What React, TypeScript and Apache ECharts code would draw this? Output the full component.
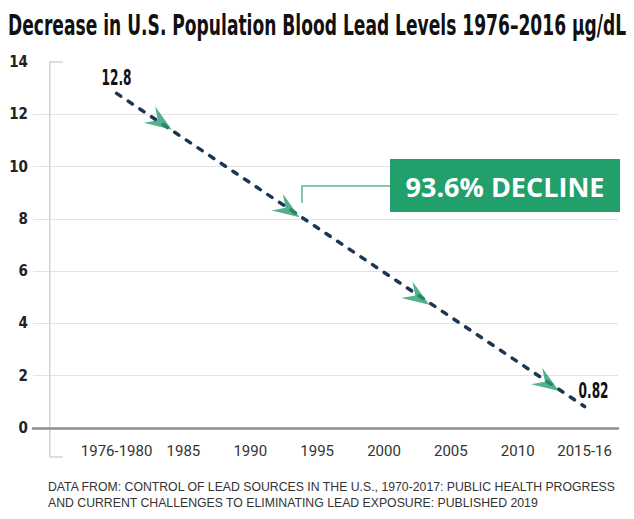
import React, { useEffect, useRef } from "react";
import * as echarts from "echarts";

const categories = ["", "1976-1980", "1985", "1990", "1995", "2000", "2005", "2010", "2015-16"];
const labelPositions = [1, 2, 3, 4, 5, 6, 7, 8];
const leadX = [1, 8];
const leadValues = [12.8, 0.82];
const arrowX = [1.66, 3.57, 5.51, 7.45];
const arrowY = [11.7, 8.35, 5.0, 1.7];
const titleText = "Decrease in U.S. Population Blood Lead Levels 1976\u20132016 \u00b5g/dL";
const declineText = "93.6% DECLINE";
const sourceLines = [
  "DATA FROM: CONTROL OF LEAD SOURCES IN THE U.S., 1970-2017: PUBLIC HEALTH PROGRESS",
  "AND CURRENT CHALLENGES TO ELIMINATING LEAD EXPOSURE: PUBLISHED 2019",
];

const NARROW = "'Liberation Sans Narrow', 'DejaVu Sans Condensed', 'Liberation Sans', sans-serif";
const FOOT = "'Liberation Sans', Arial, sans-serif";

function measure(text: string, font: string): number {
  const c = document.createElement("canvas").getContext("2d");
  if (!c) return 0;
  c.font = font;
  return c.measureText(text).width;
}

export default function App() {
  const ref = useRef<HTMLDivElement>(null);
  useEffect(() => {
    if (!ref.current) return;
    const chart = echarts.init(ref.current, null, { renderer: "svg" });
    const option: any = {
      animation: false,
      backgroundColor: "#ffffff",
      grid: { left: 33, top: 62, width: 585, height: 366, outerBoundsMode: "none" },
      xAxis: {
        type: "value",
        min: -0.25,
        max: 8.5,
        axisLine: { show: true, onZero: true, lineStyle: { color: "#8e8e8e", width: 2.5 } },
        axisTick: { show: false },
        splitLine: { show: false },
        axisLabel: {
          customValues: labelPositions,
          formatter: (v: number) => categories[Math.round(v)] ?? "",
          color: "#333",
          fontFamily: "Roboto, sans-serif",
          fontSize: 15,
          margin: 15,
        },
      },
      yAxis: {
        type: "value",
        min: 0,
        max: 14,
        interval: 2,
        axisLine: { show: false },
        axisTick: { show: false },
        splitLine: { show: true, showMaxLine: false, lineStyle: { color: "#e2e2e2", width: 1 } },
        axisLabel: {
          color: "#222",
          fontFamily: NARROW,
          fontWeight: "bold",
          fontSize: 15,
          margin: 5,
        },
      },
      series: [
        {
          type: "line",
          data: leadX.map((x, i) => [x, leadValues[i]]),
          symbol: "circle",
          symbolSize: 2,
          showSymbol: true,
          itemStyle: { color: "#1c3654" },
          lineStyle: { color: "#1c3654", width: 3.5, type: [5, 9], cap: "round" },
          z: 3,
        },
        {
          type: "scatter",
          data: arrowX.map((x, i) => [x, arrowY[i]]),
          symbol: "path://M10,0 L20,24 L10,15 L0,24 Z",
          symbolSize: [20, 27],
          symbolRotate: -124,
          itemStyle: { color: "#2a9e6b" },
          z: 4,
        },
      ],
    };
    chart.setOption(option);
    const [x0, yTop] = chart.convertToPixel({ gridIndex: 0 }, [0, 14]) as number[];
    const [, yZero] = chart.convertToPixel({ gridIndex: 0 }, [0, 0]) as number[];
    const yBottom = yZero + 29;

    const titleFont = `bold 28px ${NARROW}`;
    const titleW = measure(titleText, titleFont) || 618;
    const titleScale = 618 / titleW;
    const footFont = `12px ${FOOT}`;
    const footW = measure(sourceLines[0], footFont) || 569;
    const footScale = 569 / footW;

    const valueFont = `bold 21px ${NARROW}`;
    const valueW = measure(String(leadValues[0]), valueFont) || 30;
    const valueScale = 30 / valueW;
    const valueLabels = leadValues.map((v, i) => {
      const [px, py] = chart.convertToPixel({ gridIndex: 0 }, [leadX[i], v]) as number[];
      const isLast = i === leadValues.length - 1;
      return {
        type: "text",
        x: isLast ? px - 6 : px,
        y: py - 16,
        scaleX: valueScale,
        z: 10,
        style: {
          text: String(v),
          font: valueFont,
          fill: "#111",
          textAlign: isLast ? "left" : "center",
          textVerticalAlign: "middle",
        },
      };
    });

    chart.setOption({
      graphic: [
        {
          type: "text",
          x: 8,
          y: 26,
          scaleX: titleScale,
          style: {
            text: titleText,
            font: titleFont,
            fill: "#111",
            textVerticalAlign: "middle",
          },
        },
        { type: "line", shape: { x1: x0, y1: yTop, x2: x0, y2: yBottom }, style: { stroke: "#d2d2d2", lineWidth: 1.5 } },
        { type: "line", shape: { x1: x0, y1: yTop, x2: x0 + 13, y2: yTop }, style: { stroke: "#d2d2d2", lineWidth: 1.5 } },
        { type: "line", shape: { x1: x0, y1: yBottom, x2: x0 + 13, y2: yBottom }, style: { stroke: "#d2d2d2", lineWidth: 1.5 } },
        ...valueLabels,
        {
          type: "polyline",
          shape: { points: [[390, 186], [302, 186], [302, 203]] },
          style: { stroke: "#8cc6a9", lineWidth: 2, fill: null },
        },
        { type: "rect", shape: { x: 390, y: 159, width: 230, height: 53 }, style: { fill: "#22a06b" } },
        {
          type: "text",
          x: 505,
          y: 186,
          style: {
            text: declineText,
            fontFamily: "'Open Sans', sans-serif",
            fontWeight: "bold",
            fontSize: 27,
            fill: "#fff",
            textAlign: "center",
            textVerticalAlign: "middle",
          },
        },
        ...sourceLines.map((t, i) => ({
          type: "text",
          x: 48,
          y: 487 + i * 16,
          scaleX: footScale,
          style: {
            text: t,
            font: footFont,
            fill: "#333",
            textVerticalAlign: "middle",
          },
        })),
      ],
    });
    return () => chart.dispose();
  }, []);
  return <div ref={ref} style={{ position: "absolute", left: 0, top: 0, width: 634, height: 519 }} />;
}
